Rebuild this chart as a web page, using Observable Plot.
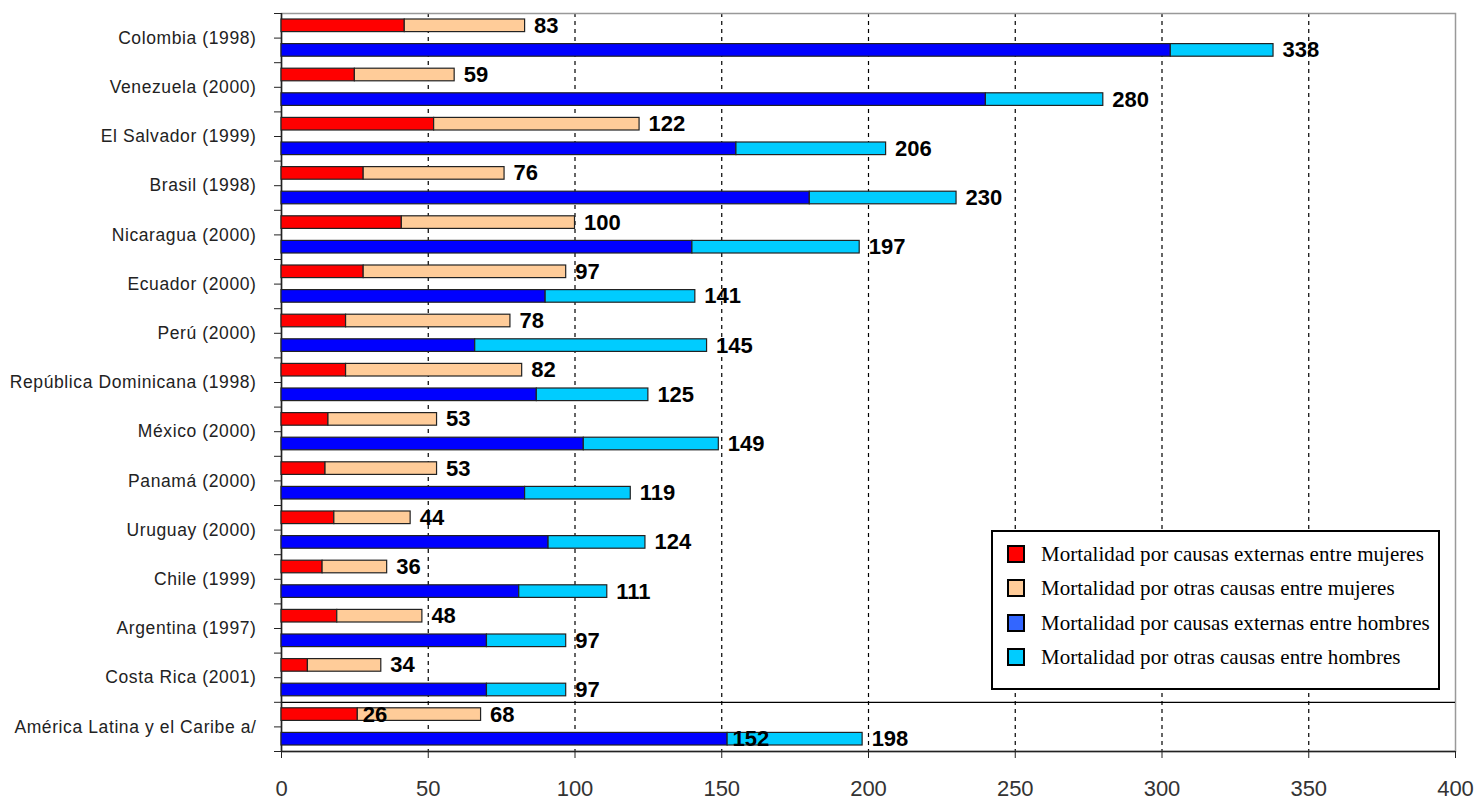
<!DOCTYPE html>
<html><head><meta charset="utf-8">
<script src="https://cdn.jsdelivr.net/npm/d3@7"></script>
<script src="https://cdn.jsdelivr.net/npm/@observablehq/plot@0.6"></script>
<style>
body{margin:0;background:#fff;}
#wrap{position:relative;width:1475px;height:801px;overflow:hidden;}
#legend{position:absolute;left:991px;top:530px;width:449px;height:160px;border:2px solid #000;background:#fff;box-sizing:border-box;font-family:"Liberation Serif","Times New Roman",serif;font-size:21px;letter-spacing:0.05px;color:#000;}
.row{position:absolute;left:14px;height:20px;display:flex;align-items:center;white-space:nowrap;}
.sw{width:14px;height:14px;border:2px solid #000;margin-right:16px;flex:none;}
.ylab text{letter-spacing:0.6px;}
</style>
</head><body>
<div id="wrap"><div id="chart"></div><div id="legend"></div></div>
<script>
const countries = ["Colombia (1998)","Venezuela (2000)","El Salvador (1999)","Brasil (1998)","Nicaragua (2000)","Ecuador (2000)","Perú (2000)","República Dominicana (1998)","México (2000)","Panamá (2000)","Uruguay (2000)","Chile (1999)","Argentina (1997)","Costa Rica (2001)","América Latina y el Caribe a/"];
const extWomen   = [42, 25, 52, 28, 41, 28, 22, 22, 16, 15, 18, 14, 19, 9, 26];
const totalWomen = [83, 59, 122, 76, 100, 97, 78, 82, 53, 53, 44, 36, 48, 34, 68];
const extMen     = [303, 240, 155, 180, 140, 90, 66, 87, 103, 83, 91, 81, 70, 70, 152];
const totalMen   = [338, 280, 206, 230, 197, 141, 145, 125, 149, 119, 124, 111, 97, 97, 198];
const xTicks = [0, 50, 100, 150, 200, 250, 300, 350, 400];
const seriesNames = ["Mortalidad por causas externas entre mujeres","Mortalidad por otras causas entre mujeres","Mortalidad por causas externas entre hombres","Mortalidad por otras causas entre hombres"];
const colors = ["#ff0000","#ffcc99","#0000ff","#00ccff"];
const legendColors = ["#ff0000","#ffcc99","#3366ff","#00ccff"];

// each country occupies two slots: women (upper) and men (lower)
const rows = [];
countries.forEach((c, i) => {
  rows.push({country: c, slot: 2*i, ext: extWomen[i], total: totalWomen[i], sex: "F"});
  rows.push({country: c, slot: 2*i + 1, ext: extMen[i], total: totalMen[i], sex: "M"});
});
const groups = countries.map((c, i) => ({country: c, mid: 2*i + 1}));
const nSlots = countries.length * 2;
const lastGroupStart = nSlots - 2;
const aggregate = rows.filter(d => d.country === countries[countries.length - 1]);

const font = "'Liberation Sans', Arial, sans-serif";

const chart = Plot.plot({
  width: 1475,
  height: 801,
  marginLeft: 281,
  marginRight: 20,
  marginTop: 13,
  marginBottom: 50,
  style: {fontFamily: font, background: "#fff", overflow: "visible"},
  x: {domain: [0, 400], ticks: xTicks},
  y: {domain: [0, nSlots], reverse: true},
  marks: [
    Plot.ruleX(xTicks.filter(t => t > 0 && t < 400), {stroke: "#000", strokeDasharray: "4,4", strokeWidth: 1.2}),
    Plot.frame({stroke: "#999", strokeWidth: 1.5}),
    Plot.ruleY([lastGroupStart], {stroke: "#000", strokeWidth: 1.2}),
    Plot.ruleY([nSlots], {stroke: "#222", strokeWidth: 1.5}),
    Plot.ruleX([0], {stroke: "#222", strokeWidth: 1.5}),
    Plot.rect(rows, {x1: () => 0, x2: "ext", y1: "slot", y2: d => d.slot + 1, insetTop: 6, insetBottom: 6,
      fill: d => d.sex === "F" ? colors[0] : colors[2], stroke: "#222", strokeWidth: 1.2}),
    Plot.rect(rows, {x1: "ext", x2: "total", y1: "slot", y2: d => d.slot + 1, insetTop: 6, insetBottom: 6,
      fill: d => d.sex === "F" ? colors[1] : colors[3], stroke: "#222", strokeWidth: 1.2}),
    Plot.text(rows, {x: "total", y: d => d.slot + 0.5, text: d => String(d.total), dx: 9, textAnchor: "start",
      fontSize: 22, fill: "#000", fontWeight: "bold"}),
    Plot.text(aggregate, {x: "ext", y: d => d.slot + 0.5, text: d => String(d.ext), dx: 5, textAnchor: "start",
      fontSize: 22, fill: "#000", fontWeight: "bold"}),
    Plot.text(groups, {frameAnchor: "left", y: "mid", text: "country", textAnchor: "end", dx: -25,
      fontSize: 17.5, fill: "#222", className: "ylab"}),
    Plot.axisY({ticks: d3.range(0, nSlots + 1), tickFormat: () => "", tickSize: 7, stroke: "#222", label: null}),
    Plot.axisX({ticks: xTicks, tickSize: 7, tickPadding: 22, fontSize: 22, fill: "#333", stroke: "#222", label: null})
  ]
});
document.getElementById("chart").appendChild(chart);

const legend = document.getElementById("legend");
const rowTops = [12, 46, 81, 115];
seriesNames.forEach((name, i) => {
  const r = document.createElement("div");
  r.className = "row";
  r.style.top = rowTops[i] + "px";
  const sw = document.createElement("div");
  sw.className = "sw";
  sw.style.background = legendColors[i];
  const t = document.createElement("span");
  t.textContent = name;
  r.appendChild(sw); r.appendChild(t);
  legend.appendChild(r);
});
</script>
</body></html>
